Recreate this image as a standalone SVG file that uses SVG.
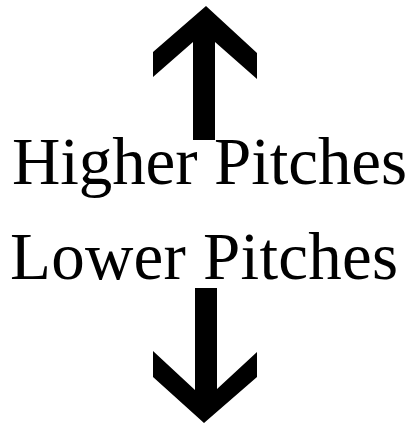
<svg xmlns="http://www.w3.org/2000/svg" width="414" height="426" viewBox="0 0 414 426">
<style>
.lbl{font-family:"Liberation Serif","Times New Roman",serif;font-size:67px;fill:#000}
.arr{fill:#000}
</style>
<rect width="414" height="426" fill="#fff"/>
<g id="connectors">
<polygon class="arr" points="206,6 257,53 257,79 215,42 215,140 193,140 193,42 153,77 153,52"/>
<polygon class="arr" points="195,288 217,288 217,389 257,352 257,377 204,423 153,377 153,351 195,390"/>
</g>
<g id="higher"><text class="lbl" x="12" y="184" textLength="395">Higher Pitches</text></g>
<g id="lower"><text class="lbl" x="10" y="279" textLength="388">Lower Pitches</text></g>
</svg>
